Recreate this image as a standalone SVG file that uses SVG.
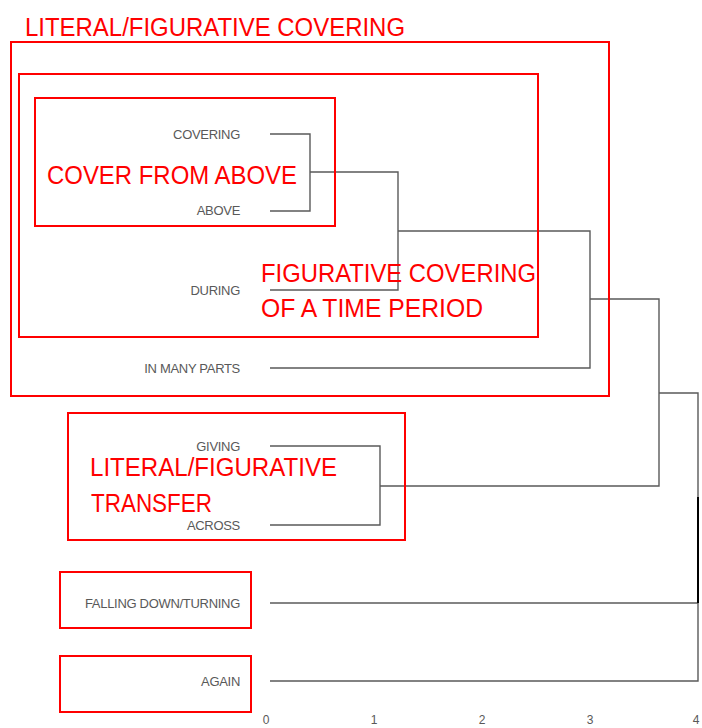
<svg xmlns="http://www.w3.org/2000/svg" width="702" height="728" viewBox="0 0 702 728">
<style>
.leaf{font-family:"Liberation Sans",Arial,sans-serif;font-size:13px;fill:#595959;text-anchor:end;letter-spacing:-0.3px}
.axis{font-family:"Liberation Sans",Arial,sans-serif;font-size:12px;fill:#595959;text-anchor:middle}
.lbl{font-family:"Liberation Sans",Arial,sans-serif;font-size:25px;fill:#ff0000}
.box{fill:none;stroke:#ff0000;stroke-width:2}
.den{fill:none;stroke:#5a5a5a;stroke-width:1.4}
</style>
<rect width="702" height="728" fill="#ffffff"/>
<g id="connectors">
<path class="den" d="M270,134 H310 V211 H270"/>
<path class="den" d="M310,172 H398 V290 H270"/>
<path class="den" d="M398,231 H590 V368 H270"/>
<path class="den" d="M270,446 H380 V525 H270"/>
<path class="den" d="M590,299 H659 V486 H380"/>
<path class="den" d="M659,393 H698 V681 H270"/>
<path class="den" d="M270,603 H698"/>
<path d="M698,497 V603" stroke="#000" stroke-width="2"/>
</g>
<g id="leaf-covering"><text class="leaf" x="240" y="139">COVERING</text></g>
<g id="leaf-above"><text class="leaf" x="240" y="215">ABOVE</text></g>
<g id="leaf-during"><text class="leaf" x="240" y="295">DURING</text></g>
<g id="leaf-in-many-parts"><text class="leaf" x="240" y="373">IN MANY PARTS</text></g>
<g id="leaf-giving"><text class="leaf" x="240" y="451">GIVING</text></g>
<g id="leaf-across"><text class="leaf" x="240" y="530">ACROSS</text></g>
<g id="leaf-falling"><text class="leaf" x="240" y="608">FALLING DOWN/TURNING</text></g>
<g id="leaf-again"><text class="leaf" x="240" y="686">AGAIN</text></g>
<g id="axis">
<text class="axis" x="266" y="724">0</text>
<text class="axis" x="374" y="724">1</text>
<text class="axis" x="482" y="724">2</text>
<text class="axis" x="590" y="724">3</text>
<text class="axis" x="696" y="724">4</text>
</g>
<g id="cluster-literal-figurative-covering">
<rect class="box" x="11" y="42" width="598" height="354"/>
<text class="lbl" x="25" y="36" textLength="380" lengthAdjust="spacingAndGlyphs">LITERAL/FIGURATIVE COVERING</text>
</g>
<g id="cluster-figurative-time">
<rect class="box" x="19" y="74" width="519" height="263"/>
<text class="lbl" x="261" y="282" textLength="275" lengthAdjust="spacingAndGlyphs">FIGURATIVE COVERING</text>
<text class="lbl" x="261" y="317" textLength="222" lengthAdjust="spacingAndGlyphs">OF A TIME PERIOD</text>
</g>
<g id="cluster-cover-from-above">
<rect class="box" x="35" y="98" width="300" height="128"/>
<text class="lbl" x="47" y="184" textLength="250" lengthAdjust="spacingAndGlyphs">COVER FROM ABOVE</text>
</g>
<g id="cluster-transfer">
<rect class="box" x="68" y="413" width="337" height="127"/>
<text class="lbl" x="90" y="476" textLength="247" lengthAdjust="spacingAndGlyphs">LITERAL/FIGURATIVE</text>
<text class="lbl" x="91" y="512" textLength="121" lengthAdjust="spacingAndGlyphs">TRANSFER</text>
</g>
<g id="cluster-falling">
<rect class="box" x="60" y="572" width="191" height="56"/>
</g>
<g id="cluster-again">
<rect class="box" x="60" y="656" width="191" height="56"/>
</g>
</svg>
